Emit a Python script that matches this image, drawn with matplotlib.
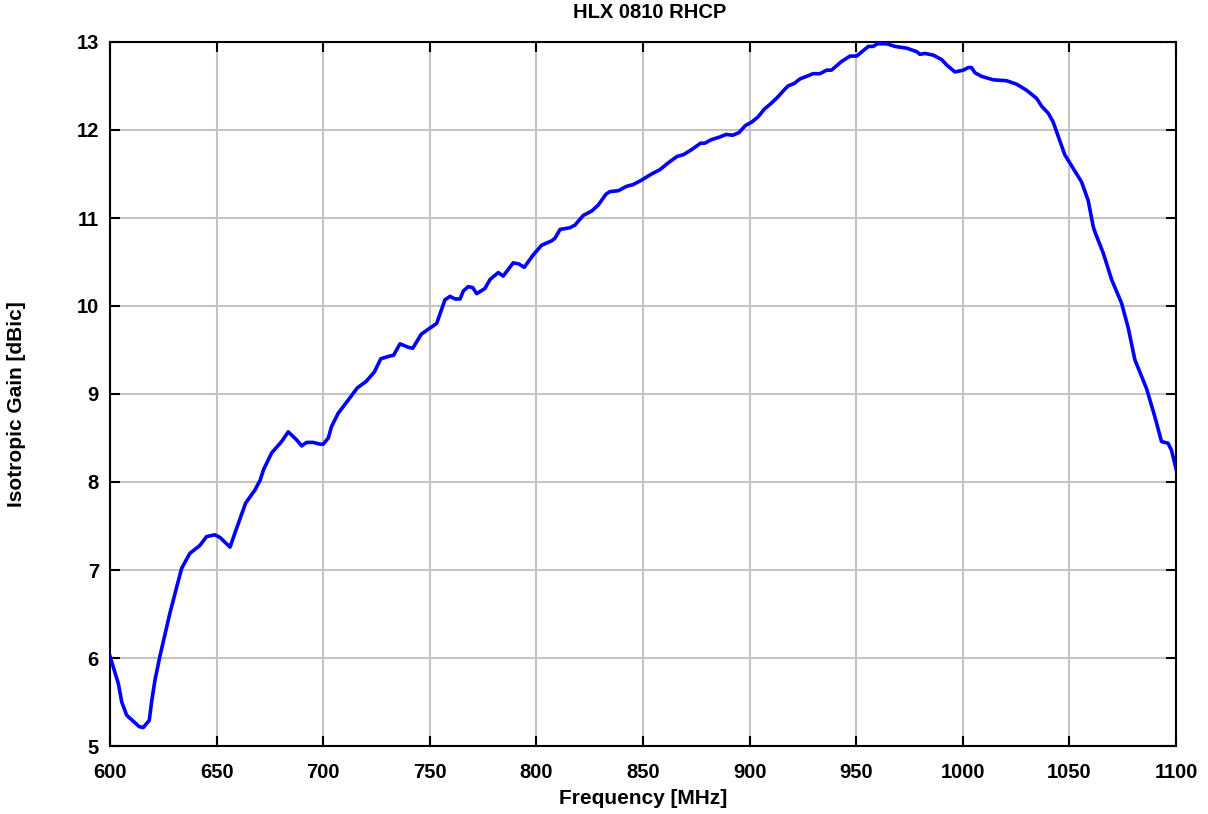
import numpy as np
import matplotlib.pyplot as plt

plt.rcParams['font.family'] = ['Liberation Sans', 'DejaVu Sans']
plt.rcParams['font.weight'] = 'bold'

# measured gain curve
freq_mhz = [600, 603.9, 605.5, 607.8, 613.7, 615.6, 618.4, 619.5, 621.1, 623.5,
            628.1, 633.6, 637.5, 642.2, 645.3, 649.2, 651.6, 656.3, 658.6, 663.6,
            668, 670.4, 672, 675.8, 680.5, 683.6, 687.5, 689.9, 692.2, 695.3,
            698.5, 700, 702.4, 703.9, 707, 711.7, 716, 720, 724, 727,
            731, 733, 736, 740, 742, 746, 750.1, 753.2, 757.1, 759.5,
            761.8, 764.2, 765.7, 768, 770.1, 772, 775.9, 778.2, 782.1, 784.4,
            789.1, 791.5, 794.3, 798.5, 802.4, 807.1, 808.7, 811.1, 815.8, 818.1,
            822, 826, 829.1, 832.6, 834.5, 838.4, 842.3, 845.4, 849.3, 854,
            858, 862, 866, 869, 873, 877, 879, 882, 886, 889,
            892, 895, 898, 901, 904, 907, 910, 913, 916, 918,
            921, 923.6, 929.8, 933, 936.1, 938.4, 943.2, 947.1, 950.2, 955.7,
            958, 959.9, 964.3, 968.2, 973.7, 978.4, 979.9, 982.3, 986.2, 990.1,
            992.4, 996.3, 1000.2, 1002.6, 1004.1, 1005.7, 1008.8, 1014.3, 1020.5, 1025.3,
            1030, 1034.6, 1037, 1040.1, 1042.4, 1044, 1047.8, 1055.7, 1058.8, 1061.2,
            1062, 1065.9, 1069.8, 1074.5, 1077.6, 1080.7, 1086.2, 1090.1, 1093.2, 1096.3,
            1097.9, 1099.8, 1100]
gain_dbic = [6.02, 5.71, 5.5, 5.35, 5.22, 5.21, 5.29, 5.5, 5.75, 6.03,
             6.51, 7.02, 7.19, 7.28, 7.38, 7.4, 7.37, 7.26, 7.42, 7.76,
             7.91, 8.02, 8.14, 8.33, 8.46, 8.57, 8.48, 8.41, 8.45, 8.45,
             8.43, 8.43, 8.5, 8.63, 8.78, 8.93, 9.07, 9.14, 9.25, 9.4,
             9.43, 9.44, 9.57, 9.53, 9.52, 9.68, 9.75, 9.8, 10.07, 10.11,
             10.08, 10.08, 10.17, 10.22, 10.21, 10.14, 10.2, 10.3, 10.38, 10.34,
             10.49, 10.48, 10.44, 10.58, 10.69, 10.74, 10.77, 10.87, 10.89, 10.92,
             11.03, 11.08, 11.15, 11.27, 11.3, 11.31, 11.36, 11.38, 11.43, 11.5,
             11.55, 11.63, 11.7, 11.72, 11.78, 11.85, 11.85, 11.89, 11.92, 11.95,
             11.94, 11.97, 12.05, 12.09, 12.15, 12.24, 12.3, 12.37, 12.45, 12.5,
             12.53, 12.58, 12.64, 12.64, 12.68, 12.68, 12.78, 12.84, 12.84, 12.95,
             12.95, 12.98, 12.98, 12.95, 12.93, 12.89, 12.86, 12.87, 12.85, 12.8,
             12.74, 12.66, 12.68, 12.71, 12.71, 12.65, 12.61, 12.57, 12.56, 12.52,
             12.45, 12.36, 12.27, 12.19, 12.09, 11.98, 11.72, 11.41, 11.2, 10.9,
             10.84, 10.6, 10.3, 10.03, 9.75, 9.39, 9.06, 8.74, 8.46, 8.44,
             8.36, 8.17, 8.15]

x_ticks = [600, 650, 700, 750, 800, 850, 900, 950, 1000, 1050, 1100]
y_ticks = [5, 6, 7, 8, 9, 10, 11, 12, 13]

fig = plt.figure(figsize=(12.08, 8.14), dpi=100)
ax = fig.add_axes([110/1208, 68/814, 1066/1208, 704/814])

ax.plot(freq_mhz, gain_dbic, color='#0000ff', lw=2.6, zorder=3)

ax.set_xlim(600, 1100)
ax.set_ylim(5, 13)
ax.set_xticks(x_ticks)
ax.set_yticks(y_ticks)
ax.grid(True, color='#c4c4c4', lw=1.5)
ax.set_axisbelow(True)
ax.tick_params(direction='in', length=7, width=1.5, top=True, right=True,
               labelsize=14.5)
ax.tick_params(axis='x', pad=12)
ax.tick_params(axis='y', pad=8)
for lbl in ax.get_xticklabels() + ax.get_yticklabels():
    lbl.set_fontweight('bold')
for s in ax.spines.values():
    s.set_linewidth(1.5)

fig.text(650/1208, 1 - 12/814, 'HLX 0810 RHCP', fontsize=14.5, fontweight='bold',
         ha='center', va='center')
ax.set_xlabel('Frequency [MHz]', fontsize=15, fontweight='bold', va='center')
ax.xaxis.set_label_coords(0.5, (746 - 799) / 704)
ax.set_ylabel('Isotropic Gain [dBic]', fontsize=15, fontweight='bold', va='center')
ax.yaxis.set_label_coords((17 - 110) / 1066, (746 - 404) / 704)

fig.savefig('out.png', dpi=100)
